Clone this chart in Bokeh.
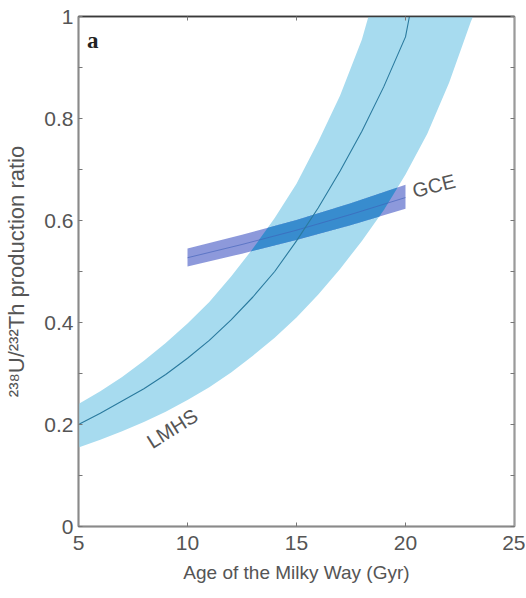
import numpy as np
from bokeh.plotting import figure
from bokeh.models import FixedTicker, LinearAxis, Range1d, Label
from bokeh.embed import file_html
from bokeh.resources import INLINE
from bokeh.core.properties import value

# ---------------- data ----------------
# LMHS: central production-ratio curve vs age
lmhs_age = [5, 6, 7, 8, 9, 10, 11, 12, 13, 14, 15, 16, 17, 18, 19, 20, 20.18]
lmhs_mid = [0.200, 0.222, 0.246, 0.270, 0.298, 0.330, 0.365, 0.405, 0.450,
            0.500, 0.560, 0.625, 0.697, 0.775, 0.862, 0.960, 1.0]
# LMHS band, upper (left) edge
lmhs_up_age = [5, 6, 7, 8, 9, 10, 11, 12, 13, 14, 15, 16, 17, 18, 18.3]
lmhs_up = [0.240, 0.265, 0.293, 0.325, 0.360, 0.398, 0.440, 0.490, 0.545,
           0.605, 0.672, 0.755, 0.845, 0.955, 1.0]
# LMHS band, lower (right) edge
lmhs_lo_age = [5, 6, 7, 8, 9, 10, 11, 12, 13, 14, 15, 16, 17, 18, 19, 20,
               21, 22, 23, 23.1]
lmhs_lo = [0.155, 0.170, 0.187, 0.205, 0.225, 0.248, 0.273, 0.302, 0.335,
           0.370, 0.410, 0.455, 0.505, 0.560, 0.620, 0.690, 0.770, 0.870,
           0.990, 1.0]

# GCE band
gce_age = [10, 12.5, 15, 17.5, 20]
gce_up = [0.545, 0.572, 0.601, 0.634, 0.670]
gce_mid = [0.527, 0.553, 0.581, 0.612, 0.645]
gce_lo = [0.510, 0.535, 0.562, 0.591, 0.623]

x_ticks = [5, 10, 15, 20, 25]
y_ticks = [0, 0.2, 0.4, 0.6, 0.8, 1.0]
y_minor = [0.1, 0.3, 0.5, 0.7, 0.9]

# text annotations (data units)
panel_label = ("a", 5.65, 0.952)
gce_label = ("GCE", 21.3, 0.668)
lmhs_label = ("LMHS", 9.3, 0.192)

FONT = "Liberation Sans"
TXT = "#555555"

p = figure(width=525, height=596, output_backend="svg", toolbar_location=None,
           x_range=Range1d(5, 25), y_range=Range1d(0, 1),
           frame_width=436, frame_height=510,
           min_border_left=78, min_border_top=16, min_border_right=11,
           min_border_bottom=70)
p.grid.visible = False
p.outline_line_color = "#3a3a3a"
p.outline_line_width = 1.5
p.background_fill_color = "white"
p.border_fill_color = "white"

# LMHS band
band_x = lmhs_up_age + lmhs_lo_age[::-1]
band_y = lmhs_up + lmhs_lo[::-1]
p.patch(band_x, band_y, fill_color="#a7dbef", line_color=None)

# GCE band (periwinkle outside LMHS)
gx = gce_age + gce_age[::-1]
gy = gce_up + gce_lo[::-1]
p.patch(gx, gy, fill_color="#8793d9", fill_alpha=0.95, line_color=None)

# overlap of GCE and LMHS: stronger blue
xg = np.linspace(gce_age[0], gce_age[-1], 401)
g_lo = np.interp(xg, gce_age, gce_lo)
g_up = np.interp(xg, gce_age, gce_up)
l_lo = np.interp(xg, lmhs_lo_age, lmhs_lo)
l_up = np.interp(xg, lmhs_up_age, lmhs_up)
lo = np.maximum(g_lo, l_lo)
hi = np.minimum(g_up, l_up)
m = hi > lo
p.varea(x=xg[m], y1=lo[m], y2=hi[m], fill_color="#348bce", fill_alpha=0.95)

# GCE centre line
p.line(gce_age, gce_mid, line_color="#3d5fb8", line_width=1, line_alpha=0.6)
# LMHS centre line
p.line(lmhs_age, lmhs_mid, line_color="#2a7a9e", line_width=1.1)

# axes styling
def style_axis(ax):
    ax.major_tick_in = 4
    ax.major_tick_out = 0
    ax.minor_tick_in = 4
    ax.minor_tick_out = 0
    ax.axis_line_color = "#8a8a8a"
    ax.axis_line_width = 1.5
    ax.major_tick_line_color = "#777777"
    ax.minor_tick_line_color = "#777777"
    ax.major_label_text_font = FONT
    ax.major_label_text_font_size = "21px"
    ax.major_label_text_color = TXT
    ax.axis_label_text_font = FONT
    ax.axis_label_text_font_style = "normal"
    ax.axis_label_text_color = TXT

xa = p.xaxis[0]
xa.ticker = FixedTicker(ticks=x_ticks)
style_axis(xa)
xa.axis_label = "Age of the Milky Way (Gyr)"
xa.axis_label_text_font_size = "19px"
xa.major_label_standoff = 9
xa.axis_label_standoff = 9

ya = p.yaxis[0]
ya.ticker = FixedTicker(ticks=y_ticks, minor_ticks=y_minor)
style_axis(ya)
ya.major_label_overrides = {0: "0", 1: "1"}
ya.axis_label = "²³⁸U/²³²Th production ratio"
ya.axis_label_text_font_size = "22px"
ya.major_label_standoff = 5
ya.axis_label_standoff = 12

top = LinearAxis(ticker=FixedTicker(ticks=x_ticks))
style_axis(top)
top.major_label_overrides = {t: "" for t in x_ticks}
top.axis_line_color = "#3a3a3a"
p.add_layout(top, "above")

right = LinearAxis(ticker=FixedTicker(ticks=y_ticks, minor_ticks=y_minor))
style_axis(right)
right.major_label_overrides = {t: "" for t in y_ticks}
right.axis_line_color = "#9a9a9a"
p.add_layout(right, "right")

# annotations
p.add_layout(Label(x=panel_label[1], y=panel_label[2], text=panel_label[0],
                   text_font="Liberation Serif", text_font_style="bold",
                   text_font_size="23px", text_color="#222222",
                   text_align="center", text_baseline="middle"))
p.add_layout(Label(x=gce_label[1], y=gce_label[2], text=gce_label[0],
                   text_font=FONT, text_font_size="20px", text_color=TXT,
                   text_align="center", text_baseline="middle", angle=0.25))
p.add_layout(Label(x=lmhs_label[1], y=lmhs_label[2], text=lmhs_label[0],
                   text_font=FONT, text_font_size="20px", text_color=TXT,
                   text_align="center", text_baseline="middle", angle=0.56))

open("out.html", "w").write(file_html(p, INLINE))
